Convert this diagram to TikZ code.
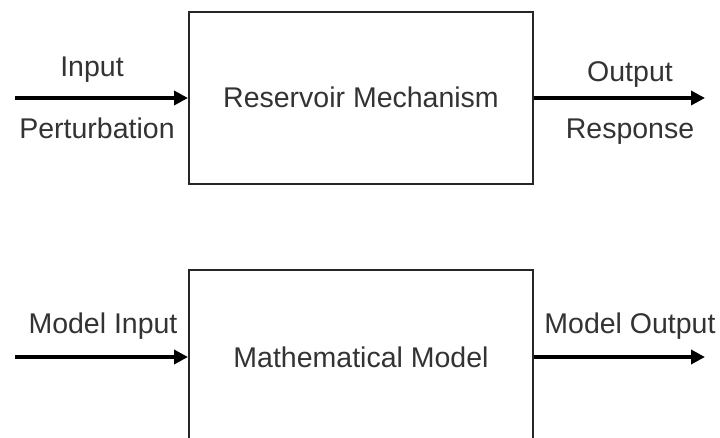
\documentclass[tikz,border=0pt]{standalone}
\usepackage{fontspec}
\setmainfont{Liberation Sans}
\usetikzlibrary{arrows.meta}
\begin{document}
\begin{tikzpicture}[x=1pt,y=-1pt,
  block/.style={draw=black!85, line width=2pt, minimum width=344pt, inner sep=0pt},
  lbl/.style={text=black!80, font=\fontsize{28.5}{31}\selectfont, inner sep=0pt, anchor=base},
  flow/.style={line width=4pt, draw=black, -{Triangle[length=14pt,width=14pt]}}]
  \useasboundingbox (0,0) rectangle (720,438);
  \clip (0,0) rectangle (720,438);

  % physical system
  \node[block, minimum height=172pt] (res) at (361,98) {};
  \node[lbl] (resT) at (361,108) {Reservoir Mechanism};
  \coordinate (inA) at (15,98);
  \coordinate (outA) at (705,98);
  \draw[flow] (inA) -- (res.west);
  \draw[flow] (res.east) -- (outA);
  \node[lbl] (inT) at (92,77) {Input};
  \node[lbl] (pertT) at (97,139) {Perturbation};
  \node[lbl] (outT) at (630,82) {Output};
  \node[lbl] (respT) at (630,139) {Response};

  % model of the system
  \node[block, minimum height=174pt] (mod) at (361,357) {};
  \node[lbl] (modT) at (361,367) {Mathematical Model};
  \coordinate (inB) at (15,357);
  \coordinate (outB) at (705,357);
  \draw[flow] (inB) -- (mod.west);
  \draw[flow] (mod.east) -- (outB);
  \node[lbl] (minT) at (103,334) {Model Input};
  \node[lbl] (moutT) at (630,333) {Model Output};
\end{tikzpicture}
\end{document}
